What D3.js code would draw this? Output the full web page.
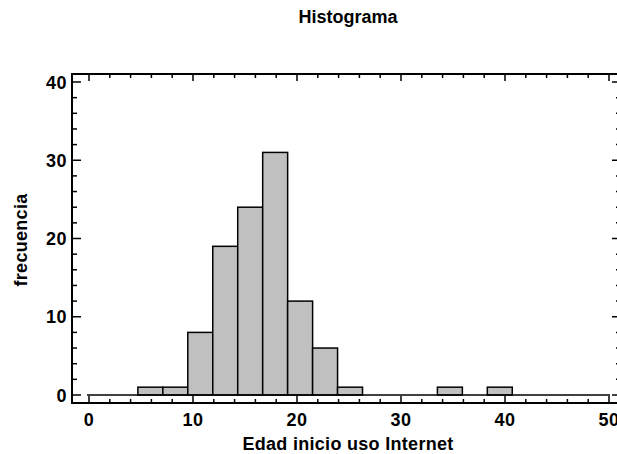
<!DOCTYPE html>
<html>
<head>
<meta charset="utf-8">
<script src="https://cdn.jsdelivr.net/npm/d3@7"></script>
<style>
  body { margin: 0; background: #fff; }
  text { font-family: Arial, "Liberation Sans", sans-serif; font-weight: bold; font-size: 18px; }
</style>
</head>
<body>
<div id="chart"></div>
<script>
//Chart data
var binStart = 4.7,
    binWidth = 2.4;
var counts = [1, 1, 8, 19, 24, 31, 12, 6, 1, 0, 0, 0, 1, 0, 1];
var xTicks = [0, 10, 20, 30, 40, 50];
var yTicks = [0, 10, 20, 30, 40];

var width = 617,
    height = 454;

//frame of the plot
var frame = {left: 72, top: 74, right: 621, bottom: 403};

var x = d3.scaleLinear().domain([0, 50]).range([89, 609]);
var y = d3.scaleLinear().domain([0, 40]).range([395, 82]);

var svg = d3.select("#chart").append("svg")
    .attr("width", width)
    .attr("height", height);

//title
svg.append("text")
    .attr("x", 348).attr("y", 23)
    .attr("text-anchor", "middle")
    .text("Histograma");

//bars
var bins = counts.map(function(c, i) {
    return {x0: binStart + i * binWidth, x1: binStart + (i + 1) * binWidth, n: c};
});

svg.append("g").selectAll("rect")
    .data(bins.filter(function(d) { return d.n > 0; }))
    .enter()
    .append("rect")
    .attr("x", function(d) { return x(d.x0); })
    .attr("y", function(d) { return y(d.n); })
    .attr("width", function(d) { return x(d.x1) - x(d.x0); })
    .attr("height", function(d) { return y(0) - y(d.n); })
    .style("fill", "#c0c0c0")
    .style("stroke", "#000")
    .style("stroke-width", 1.5);

//baseline at zero
svg.append("line")
    .attr("x1", x(0) - 2).attr("x2", x(50) + 1)
    .attr("y1", y(0)).attr("y2", y(0))
    .style("stroke", "#000").style("stroke-width", 1.5);

//frame
svg.append("rect")
    .attr("x", frame.left).attr("y", frame.top)
    .attr("width", frame.right - frame.left)
    .attr("height", frame.bottom - frame.top)
    .style("fill", "none")
    .style("stroke", "#000")
    .style("stroke-width", 2);

//ticks, all pointing into the frame
var xMinor = d3.range(0, 51, 2).filter(function(v) { return v % 10 != 0; });
var yMinor = d3.range(0, 41, 2).filter(function(v) { return v % 10 != 0; });
var ticks = svg.append("g").style("stroke", "#000").style("stroke-width", 1.5);

function xTick(v, len) {
    ticks.append("line").attr("x1", x(v)).attr("x2", x(v))
        .attr("y1", frame.bottom).attr("y2", frame.bottom - len);
    ticks.append("line").attr("x1", x(v)).attr("x2", x(v))
        .attr("y1", frame.top).attr("y2", frame.top + len);
}
function yTick(v, len) {
    ticks.append("line").attr("y1", y(v)).attr("y2", y(v))
        .attr("x1", frame.left).attr("x2", frame.left + len);
    ticks.append("line").attr("y1", y(v)).attr("y2", y(v))
        .attr("x1", frame.right).attr("x2", frame.right - len);
}
xTicks.forEach(function(v) { xTick(v, 7); });
xMinor.forEach(function(v) { xTick(v, 4); });
yTicks.forEach(function(v) { yTick(v, 9); });
yMinor.forEach(function(v) { yTick(v, 5); });

//tick labels
svg.append("g").selectAll("text")
    .data(xTicks)
    .enter()
    .append("text")
    .attr("x", function(d) { return x(d); })
    .attr("y", 426)
    .attr("text-anchor", "middle")
    .style("letter-spacing", "0.5px")
    .text(function(d) { return d; });

svg.append("g").selectAll("text")
    .data(yTicks)
    .enter()
    .append("text")
    .attr("x", 67)
    .attr("y", function(d) { return y(d) + 6.5; })
    .attr("text-anchor", "end")
    .style("letter-spacing", "0.5px")
    .text(function(d) { return d; });

//axis titles
svg.append("text")
    .attr("x", 348).attr("y", 450)
    .attr("text-anchor", "middle")
    .style("letter-spacing", "0.3px")
    .text("Edad inicio uso Internet");

svg.append("text")
    .attr("transform", "translate(27,240) rotate(-90)")
    .attr("text-anchor", "middle")
    .style("letter-spacing", "0.3px")
    .text("frecuencia");
</script>
</body>
</html>
